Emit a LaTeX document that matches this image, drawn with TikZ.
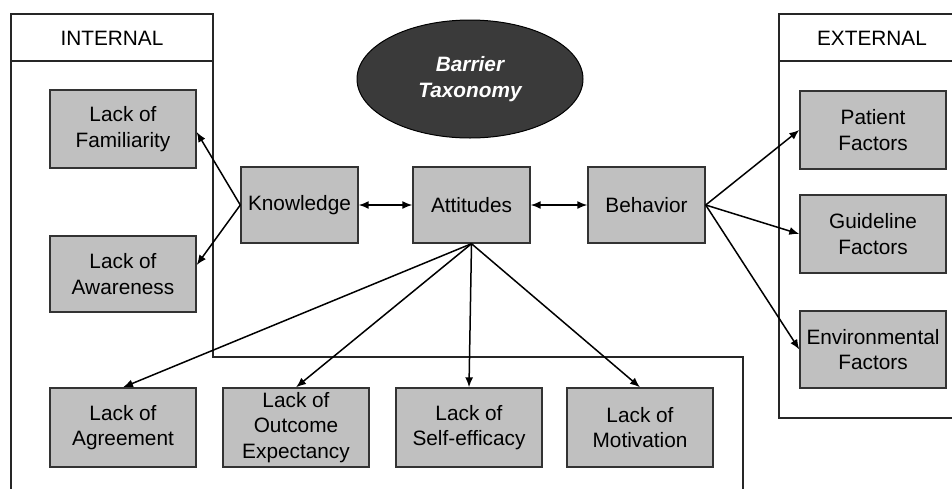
\documentclass[tikz,border=0pt]{standalone}
\usepackage{fontspec}
\setmainfont{Liberation Sans}
\usetikzlibrary{arrows.meta,shapes.geometric}
\definecolor{boxgray}{HTML}{C0C0C0}
\definecolor{ovalgray}{HTML}{3A3A3A}
\begin{document}
\begin{tikzpicture}[x=1pt,y=-1pt,
  font=\fontsize{20.8pt}{25.5pt}\selectfont,
  frame/.style={line width=1.4pt,draw=black!85},
  gbox/.style={draw=black!80,line width=1.4pt,fill=boxgray,align=center,inner sep=0pt},
  arr/.style={line width=1.5pt,-{Latex[length=10pt,width=8pt]}},
  darr/.style={line width=1.5pt,{Latex[length=10pt,width=8pt]}-{Latex[length=10pt,width=8pt]}}]
\useasboundingbox (0,0) rectangle (952,488);
% frames
\draw[frame] (11,490) -- (11,14) -- (213,14) -- (213,357) -- (743,357) -- (743,490);
\draw[frame] (11,61) -- (213,61);
\node (intl) at (112,38) {INTERNAL};
\draw[frame] (965,14) -- (779,14) -- (779,418) -- (965,418);
\draw[frame] (779,61) -- (965,61);
\node (extl) at (872,38) {EXTERNAL};
% oval
\node[ellipse,fill=ovalgray,draw=black,line width=1pt,minimum width=226pt,minimum height=118pt,
  text=white,align=center,font=\fontsize{20.8pt}{26pt}\selectfont\bfseries\itshape] (bt) at (470,79) {Barrier\\Taxonomy};
% boxes
\node[gbox,minimum width=146pt,minimum height=78pt] (fam) at (123,129) {Lack of\\Familiarity};
\node[gbox,minimum width=146pt,minimum height=76pt] (awa) at (123,274) {Lack of\\Awareness};
\node[gbox,minimum width=117pt,minimum height=76pt] (know) at (299.5,205) {Knowledge};
\node[gbox,minimum width=117pt,minimum height=76pt] (att) at (471.5,205) {Attitudes};
\node[gbox,minimum width=117pt,minimum height=76pt] (beh) at (646.5,205) {Behavior};
\node[gbox,minimum width=146pt,minimum height=78pt] (pat) at (873,130) {Patient\\Factors};
\node[gbox,minimum width=146pt,minimum height=78pt] (gui) at (873,234) {Guideline\\Factors};
\node[gbox,minimum width=146pt,minimum height=77pt] (env) at (873,349.5) {Environmental\\Factors};
\node[gbox,minimum width=146pt,minimum height=79pt] (agr) at (123,427.5) {Lack of\\Agreement};
\node[gbox,minimum width=146pt,minimum height=79pt] (out) at (296,427.5) {Lack of\\Outcome\\Expectancy};
\node[gbox,minimum width=146pt,minimum height=79pt] (self) at (469,427.5) {Lack of\\Self-efficacy};
\node[gbox,minimum width=146pt,minimum height=79pt] (mot) at (640,427.5) {Lack of\\Motivation};
% connectors
\draw[arr] (know.west) -- (fam.east |- 0,132);
\draw[arr] (know.west) -- (awa.east |- 0,265);
\draw[darr] (know) -- (att);
\draw[darr] (att) -- (beh);
\draw[arr] (att.south) -- (agr.north);
\draw[arr] (att.south) -- (out.north);
\draw[arr] (att.south) -- (self.north);
\draw[arr] (att.south) -- (mot.north);
\draw[arr] (beh.east) -- (pat.west);
\draw[arr] (beh.east) -- (gui.west);
\draw[arr] (beh.east) -- (env.west);
\end{tikzpicture}
\end{document}
